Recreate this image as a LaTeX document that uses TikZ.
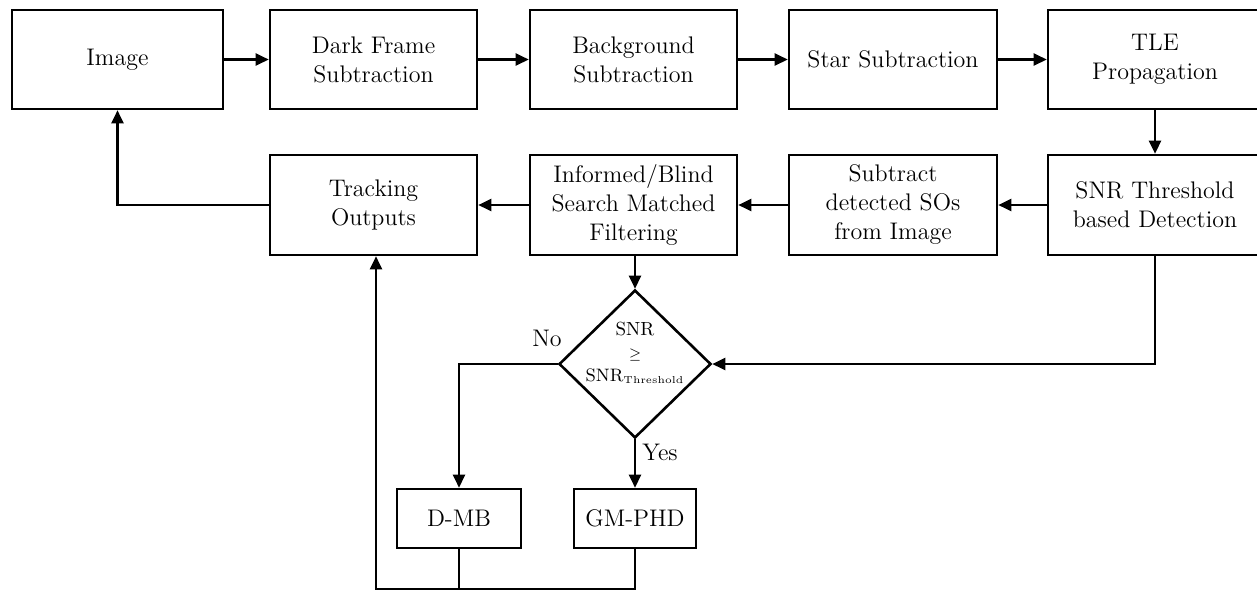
\documentclass[tikz,border=0pt]{standalone}
\usetikzlibrary{arrows.meta,shapes.geometric}
\begin{document}
\begin{tikzpicture}[x=0.5pt,y=-0.5pt,
  font=\fontsize{12}{14.5}\selectfont,
  box/.style={draw,line width=1.3pt,rectangle,align=center,inner sep=2pt,minimum height=49.5pt},
  arr/.style={line width=1.2pt,-{Triangle[length=6.5pt,width=6pt]}},
  ln/.style={line width=1.2pt}]
\useasboundingbox (0,0) rectangle (1257,590);
% row 1
\node[box,minimum width=105.5pt] (img) at (117.5,59.5) {Image};
\node[box,minimum width=103.5pt] (dark) at (373.5,59.5) {Dark Frame\\Subtraction};
\node[box,minimum width=103.5pt] (bg) at (633.5,59.5) {Background\\Subtraction};
\node[box,minimum width=104pt] (star) at (893,59.5) {Star Subtraction};
\node[box,minimum width=107pt] (tle) at (1155,59.5) {TLE\\Propagation};
% row 2
\node[box,minimum width=103.5pt,minimum height=50pt] (track) at (373.5,205) {Tracking\\Outputs};
\node[box,minimum width=103.5pt,minimum height=50pt] (mf) at (633.5,205) {Informed/Blind\\Search Matched\\Filtering};
\node[box,minimum width=104pt,minimum height=50pt] (sub) at (893,205) {Subtract\\detected SOs\\from Image};
\node[box,minimum width=107pt,minimum height=50pt] (snr) at (1155,205) {SNR Threshold\\based Detection};
% decision
\node[diamond,draw,line width=1.3pt,minimum width=76pt,minimum height=74pt,inner sep=0pt] (dec) at (635,364) {};
\node[align=center,inner sep=0pt,font=\fontsize{9.5}{11.5}\selectfont] (dectxt) at (635,353) {SNR\\$\scriptstyle\geq$\\$\mathrm{SNR}_{\scriptscriptstyle\mathrm{Threshold}}$};
% bottom boxes
\node[box,minimum width=62pt,minimum height=29.5pt] (dmb) at (459,518.5) {D-MB};
\node[box,minimum width=61pt,minimum height=29.5pt] (gm) at (635,518.5) {GM-PHD};
\coordinate (bot) at (376,589);
% connectors
\draw[arr] (img) -- (dark);
\draw[arr] (dark) -- (bg);
\draw[arr] (bg) -- (star);
\draw[arr] (star) -- (tle);
\draw[arr] (tle) -- (snr);
\draw[arr] (snr) -- (sub);
\draw[arr] (sub) -- (mf);
\draw[arr] (mf) -- (track);
\draw[arr] (track.west) -| (img.south);
\draw[arr] (mf.south -| dec.north) -- (dec.north);
\draw[arr] (snr.south) |- (dec.east);
\draw[arr] (dec.west) -| (dmb.north);
\draw[arr] (dec.south) -- (gm.north);
\draw[ln] (dmb.south) -- (dmb.south |- bot);
\draw[arr] (gm.south) -- (gm.south |- bot) -- (bot) -- (track.south -| bot);
\node (no) at (547,338) {No};
\node (yes) at (660,452) {Yes};
\end{tikzpicture}
\end{document}
